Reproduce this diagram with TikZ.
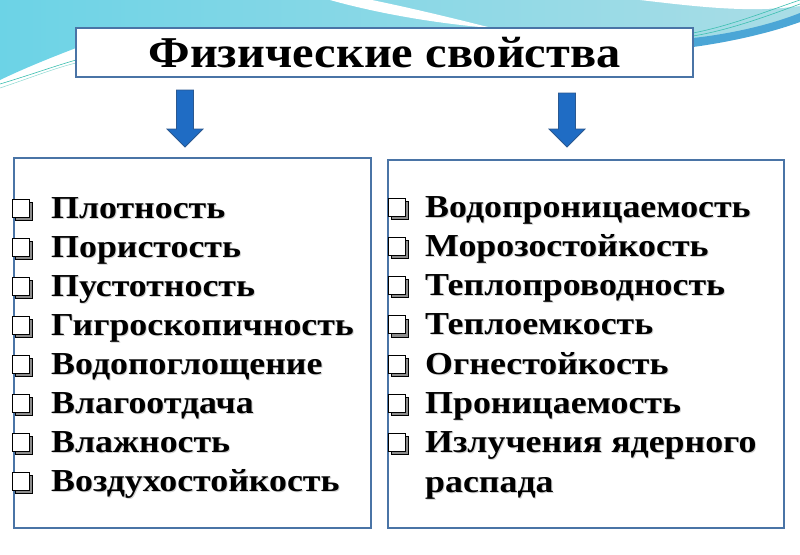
\documentclass[tikz,border=0pt]{standalone}
\usepackage{fontspec}
\newfontfamily\listfam{Liberation Serif}[FakeStretch=1.12]
\newfontfamily\titlefam{Liberation Serif}[FakeStretch=1.1]
\usetikzlibrary{positioning}

\definecolor{frameblue}{HTML}{4A74A6}
\definecolor{arrowblue}{HTML}{1F6CC4}
\definecolor{arrowedge}{HTML}{2A5890}
\definecolor{skyA}{HTML}{6CD3E6}
\definecolor{skyB}{HTML}{80B4D5}
\definecolor{skyC}{HTML}{A9DDE6}
\definecolor{bandblue}{HTML}{4BA6D6}
\definecolor{thinteal}{HTML}{3CBFB0}

\newcommand{\chkbox}[2]{%
    \filldraw[fill=black!45, draw=black, line width=0.8pt] (#1+3,#2-16) rectangle (#1+20,#2+2);
    \filldraw[fill=white, draw=black, line width=0.9pt] (#1,#2-19) rectangle (#1+17,#2-1);
}
\newcommand{\blockarrow}[3]{%
    \filldraw[fill=arrowblue, draw=arrowedge, line width=0.8pt]
        (#1-8.5,#2) -- (#1+8.5,#2) -- (#1+8.5,#3-18) -- (#1+18,#3-18)
        -- (#1,#3) -- (#1-18,#3-18) -- (#1-8.5,#3-18) -- cycle;
}

\begin{document}
\begin{tikzpicture}[x=1pt,y=-1pt,
        frame/.style={draw=frameblue, line width=1.4pt, fill=white, inner sep=0pt},
        item/.style={anchor=base west, inner sep=0pt,
            font=\listfam\bfseries\fontsize{32}{38}\selectfont},
        itemshadow/.style={item, text=black!18}]
    \useasboundingbox (0,0) rectangle (800,554);

    % background swoosh
    \shade[left color=skyA, middle color=skyB, right color=skyC]
        (0,0) -- (800,0) -- (800,22) .. controls (760,32) and (725,42) .. (693,46)
        -- (76,48) .. controls (50,58) and (25,68) .. (0,80) -- cycle;
    \fill[white] (330,0) -- (372,0) .. controls (420,10) and (460,20) .. (492,28)
        .. controls (440,24) and (380,14) .. (330,0) -- cycle;
    \fill[white] (640,0) .. controls (700,7) and (750,13) .. (800,6) -- (800,0) -- cycle;
    \fill[bandblue] (693,47) .. controls (730,42) and (770,33) .. (800,22)
        -- (800,13) .. controls (770,25) and (730,34) .. (693,38) -- cycle;
    \draw[thinteal, line width=0.6pt] (693,36) .. controls (730,30) and (770,15) .. (800,4);
    \draw[thinteal, line width=0.6pt] (693,33) .. controls (730,26) and (770,10) .. (800,0);
    \draw[thinteal, line width=0.6pt] (0,84) .. controls (30,75) and (55,66) .. (76,60);
    \draw[thinteal!60, line width=0.5pt] (0,88) .. controls (30,78) and (55,68) .. (76,63);

    \node[frame, minimum width=617, minimum height=49] (title) at (384.5,52.5)
        {\titlefam\bfseries\fontsize{44}{50}\selectfont Физические свойства};

    \blockarrow{185}{90}{147}
    \blockarrow{567}{93}{147}

    \node[frame, minimum width=357, minimum height=370] (leftbox) at (192.5,343) {};
    \node[frame, minimum width=396, minimum height=368] (rightbox) at (586,344) {};

    \foreach \txt [count=\i] in {Плотность, Пористость, Пустотность, Гигроскопичность,
            Водопоглощение, Влагоотдача, Влажность, Воздухостойкость} {
        \pgfmathsetmacro{\yb}{218+39.1*(\i-1)}
        \chkbox{12}{\yb}
        \node[itemshadow] (ls\i) at (52,\yb+1) {\txt};
        \node[item] (l\i) at (51,\yb) {\txt};
    }

    \foreach \txt [count=\i] in {Водопроницаемость, Морозостойкость, Теплопроводность,
            Теплоемкость, Огнестойкость, Проницаемость, Излучения ядерного} {
        \pgfmathsetmacro{\yb}{217+39.3*(\i-1)}
        \chkbox{388}{\yb}
        \node[itemshadow] (rs\i) at (426,\yb+1) {\txt};
        \node[item] (r\i) at (425,\yb) {\txt};
    }
    \node[itemshadow] (rs8) at (426,493) {распада};
    \node[item] (r8) at (425,492) {распада};
\end{tikzpicture}
\end{document}
